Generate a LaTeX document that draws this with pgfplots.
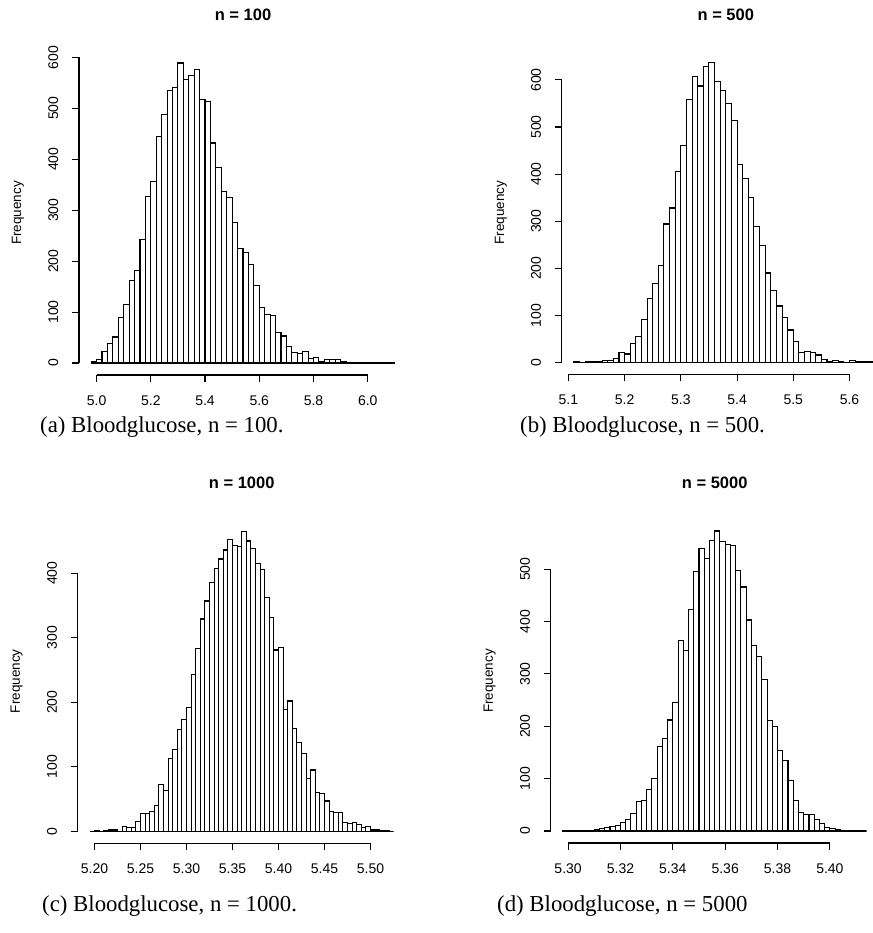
\documentclass[border=0pt]{standalone}
\usepackage{fontspec}
\setmainfont{Liberation Serif}
\newfontfamily\arial{Liberation Sans}
\usepackage{pgfplots}
\pgfplotsset{compat=1.18}

% R-style histogram panel: axis lines only over the tick range, offset from the data
\pgfplotsset{
  rhist/.style={
    scale only axis, width=328pt, height=324pt, anchor=south west,
    axis x line*=bottom, axis y line*=left, axis line style={draw=none},
    tick align=outside, major tick length=7pt,
    tick style={line width=1.1pt, black},
    clip=false,
    tick label style={font=\arial\fontsize{14}{16}\selectfont, inner ysep=13.5pt},
    yticklabel style={rotate=90, anchor=south},
    ylabel={Frequency},
    ylabel style={font=\arial\fontsize{13.5}{16}\selectfont,
      at={(axis description cs:-0.186,0.5)}, anchor=center},
    title style={font=\arial\bfseries\fontsize{16.5}{20}\selectfont,
      at={(axis description cs:0.5,1.093)}, anchor=center},
  },
  rbars/.style={ybar, bar shift=0pt, fill=white, draw=black, line width=1.1pt},
}
\newcommand{\capfont}{\fontsize{22.8}{27}\selectfont}

\begin{document}
\begin{tikzpicture}[x=1pt, y=1pt]

% (a) n = 100
\begin{axis}[rhist, at={(79pt,558pt)}, title={n = 100},
    xmin=4.9352, xmax=6.1448, ymin=-23.56, ymax=612.56,
    xtick={5.0,5.2,5.4,5.6,5.8,6.0}, xticklabels={5.0,5.2,5.4,5.6,5.8,6.0},
    ytick={0,100,200,300,400,500,600}, yticklabels={0,100,200,300,400,500,600}]
\addplot[rbars, bar width=0.02] coordinates {
  (4.99,3) (5.01,7) (5.03,22) (5.05,38) (5.07,51) (5.09,90) (5.11,114) (5.13,162) (5.15,182) (5.17,243)
  (5.19,326) (5.21,357) (5.23,444) (5.25,487) (5.27,535) (5.29,540) (5.31,589) (5.33,556) (5.35,565) (5.37,576)
  (5.39,517) (5.41,514) (5.43,432) (5.45,384) (5.47,336) (5.49,325) (5.51,276) (5.53,224) (5.55,217) (5.57,194)
  (5.59,153) (5.61,109) (5.63,96) (5.65,93) (5.67,59) (5.69,53) (5.71,32) (5.73,20) (5.75,18) (5.77,23)
  (5.79,8) (5.81,10) (5.83,3) (5.85,6) (5.87,6) (5.89,6) (5.91,3) (5.93,1) (5.95,1) (5.97,1)
  (5.99,1) (6.01,1) (6.03,0) (6.05,1) (6.07,1) (6.09,1)
};
\draw[line width=1.1pt] (axis cs:5.0,-23.56) -- (axis cs:6.0,-23.56);
\draw[line width=1.1pt] (axis cs:4.9352,0) -- (axis cs:4.9352,600);
\end{axis}

% (b) n = 500
\begin{axis}[rhist, at={(561.8pt,558.5pt)}, title={n = 500},
    xmin=5.0884, xmax=5.6716, ymin=-25.48, ymax=662.48,
    xtick={5.1,5.2,5.3,5.4,5.5,5.6}, xticklabels={5.1,5.2,5.3,5.4,5.5,5.6},
    ytick={0,100,200,300,400,500,600}, yticklabels={0,100,200,300,400,500,600}]
\addplot[rbars, bar width=0.01] coordinates {
  (5.115,1) (5.125,0) (5.135,1) (5.145,2) (5.155,3) (5.165,4) (5.175,4) (5.185,9) (5.195,21) (5.205,18)
  (5.215,41) (5.225,55) (5.235,91) (5.245,135) (5.255,167) (5.265,206) (5.275,294) (5.285,328) (5.295,405) (5.305,461)
  (5.315,559) (5.325,607) (5.335,587) (5.345,628) (5.355,637) (5.365,596) (5.375,577) (5.385,549) (5.395,514) (5.405,420)
  (5.415,391) (5.425,351) (5.435,289) (5.445,248) (5.455,190) (5.465,152) (5.475,120) (5.485,95) (5.495,69) (5.505,45)
  (5.515,21) (5.525,24) (5.535,21) (5.545,16) (5.555,6) (5.565,3) (5.575,4) (5.585,3) (5.595,0) (5.605,5)
  (5.615,1) (5.625,1) (5.635,1) (5.645,0)
};
\draw[line width=1.1pt] (axis cs:5.1,-25.48) -- (axis cs:5.6,-25.48);
\draw[line width=1.1pt] (axis cs:5.0884,0) -- (axis cs:5.0884,600);
\end{axis}

% (c) n = 1000
\begin{axis}[rhist, at={(77.7pt,89.7pt)}, title={n = 1000},
    xmin=5.1818, xmax=5.5382, ymin=-18.6, ymax=483.6,
    xtick={5.20,5.25,5.30,5.35,5.40,5.45,5.50}, xticklabels={5.20,5.25,5.30,5.35,5.40,5.45,5.50},
    ytick={0,100,200,300,400}, yticklabels={0,100,200,300,400}]
\addplot[rbars, bar width=0.005] coordinates {
  (5.1975,0) (5.2025,1) (5.2075,0) (5.2125,1) (5.2175,2) (5.2225,2) (5.2275,0) (5.2325,7) (5.2375,6) (5.2425,6)
  (5.2475,15) (5.2525,27) (5.2575,28) (5.2625,31) (5.2675,40) (5.2725,72) (5.2775,63) (5.2825,113) (5.2875,127) (5.2925,158)
  (5.2975,173) (5.3025,192) (5.3075,243) (5.3125,283) (5.3175,329) (5.3225,357) (5.3275,385) (5.3325,408) (5.3375,422) (5.3425,436)
  (5.3475,452) (5.3525,443) (5.3575,442) (5.3625,465) (5.3675,450) (5.3725,438) (5.3775,415) (5.3825,406) (5.3875,363) (5.3925,331)
  (5.3975,281) (5.4025,285) (5.4075,189) (5.4125,202) (5.4175,160) (5.4225,138) (5.4275,121) (5.4325,82) (5.4375,95) (5.4425,60)
  (5.4475,59) (5.4525,47) (5.4575,30) (5.4625,29) (5.4675,29) (5.4725,14) (5.4775,12) (5.4825,13) (5.4875,10) (5.4925,6)
  (5.4975,7) (5.5025,2) (5.5075,2) (5.5125,1) (5.5175,1) (5.5225,0)
};
\draw[line width=1.1pt] (axis cs:5.20,-18.6) -- (axis cs:5.50,-18.6);
\draw[line width=1.1pt] (axis cs:5.1818,0) -- (axis cs:5.1818,400);
\end{axis}

% (d) n = 5000
\begin{axis}[rhist, at={(550.7pt,90pt)}, title={n = 5000},
    xmin=5.29336, xmax=5.41864, ymin=-22.92, ymax=595.92,
    xtick={5.30,5.32,5.34,5.36,5.38,5.40}, xticklabels={5.30,5.32,5.34,5.36,5.38,5.40},
    ytick={0,100,200,300,400,500}, yticklabels={0,100,200,300,400,500}]
\addplot[rbars, bar width=0.002] coordinates {
  (5.299,1) (5.301,0) (5.303,1) (5.305,1) (5.307,0) (5.309,1) (5.311,3) (5.313,5) (5.315,6) (5.317,8)
  (5.319,11) (5.321,16) (5.323,22) (5.325,34) (5.327,57) (5.329,59) (5.331,80) (5.333,101) (5.335,161) (5.337,177)
  (5.339,212) (5.341,245) (5.343,364) (5.345,344) (5.347,423) (5.349,495) (5.351,539) (5.353,521) (5.355,555) (5.357,573)
  (5.359,553) (5.361,548) (5.363,545) (5.365,498) (5.367,466) (5.369,403) (5.371,355) (5.373,333) (5.375,290) (5.377,211)
  (5.379,199) (5.381,153) (5.383,134) (5.385,96) (5.387,59) (5.389,35) (5.391,32) (5.393,31) (5.395,22) (5.397,15)
  (5.399,6) (5.401,4) (5.403,3) (5.405,1) (5.407,1) (5.409,1) (5.411,1) (5.413,0)
};
\draw[line width=1.1pt] (axis cs:5.30,-22.92) -- (axis cs:5.40,-22.92);
\draw[line width=1.1pt] (axis cs:5.29336,0) -- (axis cs:5.29336,500);
\end{axis}

% sub-captions
\node[anchor=base west, font=\capfont, inner sep=0pt] at (40,500) {(a) Bloodglucose, n = 100.};
\node[anchor=base west, font=\capfont, inner sep=0pt] at (520,500) {(b) Bloodglucose, n = 500.};
\node[anchor=base west, font=\capfont, inner sep=0pt] at (42,21) {(c) Bloodglucose, n = 1000.};
\node[anchor=base west, font=\capfont, inner sep=0pt] at (497,21) {(d) Bloodglucose, n = 5000};

\pgfresetboundingbox
\path[use as bounding box] (0,0) rectangle (872,933);
\end{tikzpicture}
\end{document}
